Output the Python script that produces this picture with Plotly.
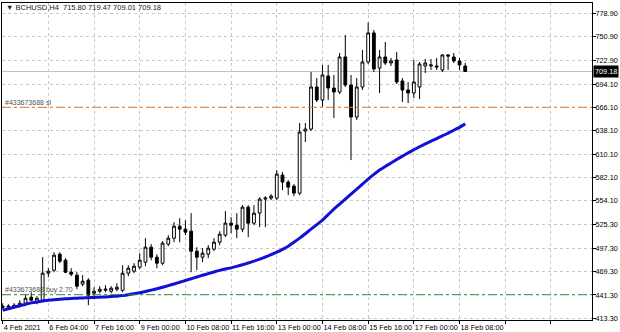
import plotly.graph_objects as go

title_text = "BCHUSD,H4  715.80 719.47 709.01 709.18"

opens = [427.8, 426.6, 429.0, 427.8, 431.4, 438.6, 432.6, 435.0, 467.4, 471.0,
         490.2, 483.0, 468.6, 465.0, 454.2, 459.0, 443.4, 445.8, 447.0, 445.8,
         448.2, 447.0, 467.4, 469.8, 474.6, 480.6, 498.6, 486.6, 479.4, 502.2,
         509.4, 523.8, 520.2, 517.8, 493.8, 486.6, 490.2, 496.2, 504.6, 513.0,
         527.4, 525.0, 520.2, 546.6, 527.4, 539.4, 556.2, 557.4, 557.4, 585.0,
         576.6, 571.8, 563.4, 637.8, 640.2, 690.6, 675.0, 703.8, 689.4, 684.6,
         726.6, 693.0, 654.6, 690.6, 720.6, 755.4, 713.4, 726.6, 719.4, 723.0,
         697.8, 687.0, 683.4, 690.6, 715.8, 715.8, 715.8, 711.0, 729.0, 726.6,
         721.8, 715.80]
highs = [431.4, 430.2, 431.4, 435.0, 442.2, 444.6, 439.8, 486.6, 473.4, 492.6,
         492.6, 485.4, 473.4, 468.6, 465.0, 461.4, 450.6, 451.8, 453.0, 451.8,
         455.4, 477.0, 477.0, 479.4, 491.4, 509.4, 502.2, 490.2, 505.8, 513.0,
         528.6, 533.4, 531.0, 539.4, 498.6, 497.4, 501.0, 509.4, 517.8, 541.8,
         534.6, 539.4, 549.0, 549.0, 549.0, 558.6, 559.8, 562.2, 591.0, 588.6,
         579.0, 574.2, 647.4, 647.4, 708.6, 701.4, 717.0, 717.0, 705.0, 731.4,
         753.0, 705.0, 701.4, 735.0, 768.0, 759.0, 735.0, 744.6, 725.4, 732.6,
         701.4, 696.6, 723.0, 720.6, 724.2, 724.2, 725.4, 730.2, 730.2, 731.4,
         725.4, 719.47]
lows = [424.2, 425.4, 425.4, 426.6, 429.0, 433.8, 430.2, 432.6, 462.6, 468.6,
        479.4, 467.4, 463.8, 448.2, 451.8, 429.0, 439.8, 443.4, 444.6, 443.4,
        445.8, 444.6, 463.8, 467.4, 472.2, 475.8, 483.0, 473.4, 477.0, 499.8,
        504.6, 504.6, 513.0, 468.6, 471.0, 480.6, 485.4, 493.8, 501.0, 510.6,
        515.4, 509.4, 516.6, 510.6, 525.0, 522.6, 522.6, 555.0, 555.0, 567.0,
        561.0, 559.8, 561.0, 624.6, 637.8, 672.6, 666.6, 675.0, 653.4, 682.2,
        690.6, 603.0, 651.0, 687.0, 718.2, 708.6, 683.4, 717.0, 715.8, 694.2,
        672.6, 671.4, 677.4, 676.2, 707.4, 711.0, 711.0, 708.6, 711.0, 719.4,
        711.0, 709.01]
closes = [426.6, 427.8, 426.6, 431.4, 437.4, 435.0, 437.4, 467.4, 469.8, 489.0,
          481.8, 468.6, 466.2, 451.8, 457.8, 441.0, 445.8, 448.2, 448.2, 449.4,
          450.6, 467.4, 473.4, 475.8, 483.0, 498.6, 486.6, 479.4, 503.4, 509.4,
          523.8, 520.2, 516.6, 493.8, 486.6, 491.4, 497.4, 504.6, 514.2, 527.4,
          525.0, 520.2, 546.6, 527.4, 539.4, 556.2, 557.4, 559.8, 586.2, 576.6,
          570.6, 563.4, 636.6, 640.2, 690.6, 675.0, 705.0, 689.4, 684.6, 726.6,
          693.0, 654.6, 690.6, 720.6, 755.4, 712.2, 726.6, 719.4, 721.8, 696.6,
          687.0, 683.4, 696.6, 718.2, 719.4, 717.0, 714.6, 729.0, 727.8, 721.8,
          717.0, 709.18]
ma_values = [423.0, 424.8, 426.6, 428.4, 430.2, 431.8, 433.0, 434.0, 434.9, 435.6,
             436.2, 436.7, 437.1, 437.5, 437.8, 438.1, 438.4, 438.7, 439.0, 439.4,
             439.9, 440.6, 441.5, 442.7, 444.0, 445.5, 447.1, 448.8, 450.6, 452.5,
             454.5, 456.5, 458.6, 460.7, 462.8, 464.9, 466.9, 468.9, 470.8, 472.4,
             473.8, 475.6, 477.6, 479.6, 481.8, 484.2, 486.8, 489.6, 492.6, 496.0,
             499.8, 504.4, 509.4, 514.7, 520.2, 525.6, 531.0, 537.6, 544.2, 550.2,
             556.2, 562.2, 568.2, 574.2, 580.2, 585.8, 591.0, 595.4, 599.4, 603.6,
             607.8, 611.6, 615.4, 619.0, 622.4, 625.6, 628.8, 632.0, 635.4, 638.8,
             642.2, 646.4]

x_tick_idx = [0, 8, 16, 24, 32, 40, 48, 56, 64, 72, 80, 88, 96]
x_tick_labels = ["4 Feb 2021", "6 Feb 04:00", "7 Feb 16:00", "9 Feb 00:00",
                 "10 Feb 08:00", "11 Feb 16:00", "13 Feb 00:00", "14 Feb 08:00",
                 "15 Feb 16:00", "17 Feb 00:00", "18 Feb 08:00", "", ""]
y_ticks = [413.30, 441.30, 469.30, 497.30, 525.30, 554.10, 582.10, 610.10,
           638.10, 666.10, 694.10, 722.90, 750.90, 778.90]

sl_price = 666.3
buy_price = 441.6
last_price = 709.18
sl_label = "#433673688 sl"
buy_label = "#433673688 buy 2.70"

bars = list(range(len(opens)))
FONT = "Liberation Sans"

fig = go.Figure()
fig.add_trace(go.Candlestick(
    x=bars, open=opens, high=highs, low=lows, close=closes,
    increasing=dict(line=dict(color="black", width=1), fillcolor="white"),
    decreasing=dict(line=dict(color="black", width=1), fillcolor="black"),
    whiskerwidth=0, showlegend=False, hoverinfo="skip"))
fig.add_trace(go.Scatter(x=bars, y=ma_values, mode="lines",
                         line=dict(color="#1010d8", width=3, shape="spline", smoothing=0.6),
                         showlegend=False, hoverinfo="skip"))

shapes = [
    dict(type="line", xref="paper", x0=0, x1=1, yref="y", y0=last_price, y1=last_price,
         line=dict(color="#c0c0c0", width=1), layer="below"),
    dict(type="line", xref="paper", x0=0, x1=1, yref="y", y0=sl_price, y1=sl_price,
         line=dict(color="#e07a30", width=1, dash="dashdot")),
    dict(type="line", xref="paper", x0=0, x1=1, yref="y", y0=buy_price, y1=buy_price,
         line=dict(color="#3a8a3a", width=1, dash="dashdot")),
]

annotations = [
    dict(xref="paper", yref="paper", x=0.005, y=0.987, xanchor="left", yanchor="middle",
         text="\u25bc " + title_text, showarrow=False, borderpad=0,
         font=dict(family=FONT, size=7.5, color="#202020")),
    dict(xref="paper", yref="y", x=0.004, y=sl_price, xanchor="left", yanchor="bottom",
         text=sl_label, showarrow=False, borderpad=0,
         font=dict(family=FONT, size=7, color="#505050")),
    dict(xref="paper", yref="y", x=0.004, y=buy_price, xanchor="left", yanchor="bottom",
         text=buy_label, showarrow=False, borderpad=0,
         font=dict(family=FONT, size=7, color="#505050")),
    dict(xref="paper", yref="y", x=1.0, y=last_price, xanchor="left", yanchor="middle",
         text="%.2f" % last_price, showarrow=False, bgcolor="black", xshift=1,
         borderpad=1, font=dict(family=FONT, size=7.3, color="white")),
]

fig.update_layout(
    width=620, height=332,
    margin=dict(l=2, r=28, t=3, b=12, autoexpand=False),
    paper_bgcolor="white", plot_bgcolor="white",
    shapes=shapes, annotations=annotations,
    font=dict(family=FONT, size=7.3, color="black"),
    xaxis=dict(range=[-0.12, 103.2], rangeslider=dict(visible=False),
               tickmode="array", tickvals=x_tick_idx, ticktext=x_tick_labels,
               ticks="outside", ticklen=3, tickcolor="black", tickangle=0,
               ticklabelposition="outside right", automargin=False,
               showgrid=True, gridcolor="#c8c8c8", griddash="dot", gridwidth=1,
               showline=True, linecolor="black", mirror=True, zeroline=False,
               tickfont=dict(family=FONT, size=7.3, color="black")),
    yaxis=dict(range=[411.3, 791.3], side="right", tickmode="array",
               tickvals=y_ticks, ticktext=["%.2f" % v for v in y_ticks],
               ticks="outside", ticklen=3, tickcolor="black", automargin=False,
               ticklabelstandoff=-2,
               showgrid=True, gridcolor="#c8c8c8", griddash="dot", gridwidth=1,
               showline=True, linecolor="black", mirror=True, zeroline=False,
               tickfont=dict(family=FONT, size=7.3, color="black")),
)

fig.write_html("out.html", config={"displayModeBar": False},
               post_script="document.body.style.margin='0';document.body.style.padding='0';")
